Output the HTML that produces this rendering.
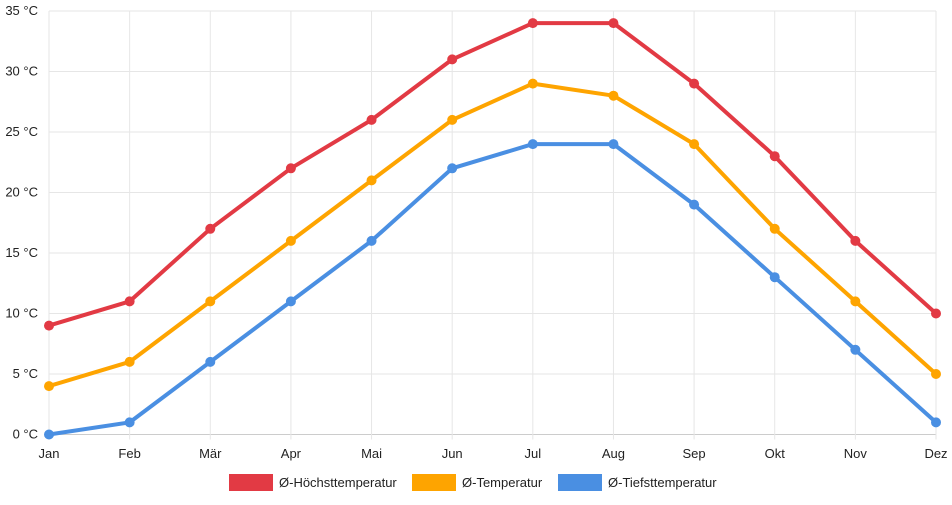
<!DOCTYPE html>
<html><head><meta charset="utf-8"><style>
body{margin:0;background:#fff;font-family:"Liberation Sans",sans-serif;}
svg text{font-family:"Liberation Sans",sans-serif;font-size:13px;fill:#222;}
</style></head><body>
<svg id="chart" width="952" height="500" xmlns="http://www.w3.org/2000/svg">
<g id="grid"></g>
<g id="series"></g>
<g id="legend"></g>
</svg>
<script>
const months=["Jan","Feb","Mär","Apr","Mai","Jun","Jul","Aug","Sep","Okt","Nov","Dez"];
const yTicks=[0,5,10,15,20,25,30,35];
const highs=[9,11,17,22,26,31,34,34,29,23,16,10];
const avgs=[4,6,11,16,21,26,29,28,24,17,11,5];
const lows=[0,1,6,11,16,22,24,24,19,13,7,1];
const seriesNames=["Ø-Höchsttemperatur","Ø-Temperatur","Ø-Tiefsttemperatur"];
const NS="http://www.w3.org/2000/svg";
const x0=49,x1=936,yb=434.5,yt=11;
const xs=i=>x0+i*(x1-x0)/(months.length-1);
const ys=v=>yb-(v/35)*(yb-yt);
function mk(t,a,p){const e=document.createElementNS(NS,t);for(const k in a)e.setAttribute(k,a[k]);p.appendChild(e);return e;}
const grid=document.getElementById('grid');
yTicks.forEach(v=>{
  const l=mk('line',{x1:x0,x2:x1,y1:ys(v),y2:ys(v),stroke:v===0?'#ccc':'#e6e6e6','stroke-width':1},grid);
  
  
  const t=mk('text',{x:38,y:ys(v)+4,'text-anchor':'end'},grid);t.textContent=v+' °C';
  
  
});
months.forEach((m,i)=>{
  const l=mk('line',{x1:xs(i),x2:xs(i),y1:yt,y2:yb+5,stroke:'#e6e6e6','stroke-width':1},grid);
  
  
  const t=mk('text',{x:xs(i),y:458,'text-anchor':'middle'},grid);t.textContent=m;
  
  
});
const sg=document.getElementById('series');
const data=[highs,avgs,lows],cols=['#e23a44','#fea400','#4a8fe2'];
data.forEach((d,s)=>{
  const p=mk('polyline',{points:d.map((v,i)=>xs(i)+','+ys(v)).join(' '),fill:'none',stroke:cols[s],'stroke-width':4,'stroke-linejoin':'round'},sg);
  
  
  d.forEach((v,i)=>{
    const c=mk('circle',{cx:xs(i),cy:ys(v),r:5,fill:cols[s]},sg);
    
    
  });
});
const lg=document.getElementById('legend');
const lx=[229,412,558];
seriesNames.forEach((n,s)=>{
  const r=mk('rect',{x:lx[s],y:474,width:44,height:17,fill:cols[s]},lg);
  
  
  const t=mk('text',{x:lx[s]+50,y:487},lg);t.textContent=n;
  
  
});
</script>
</body></html>
